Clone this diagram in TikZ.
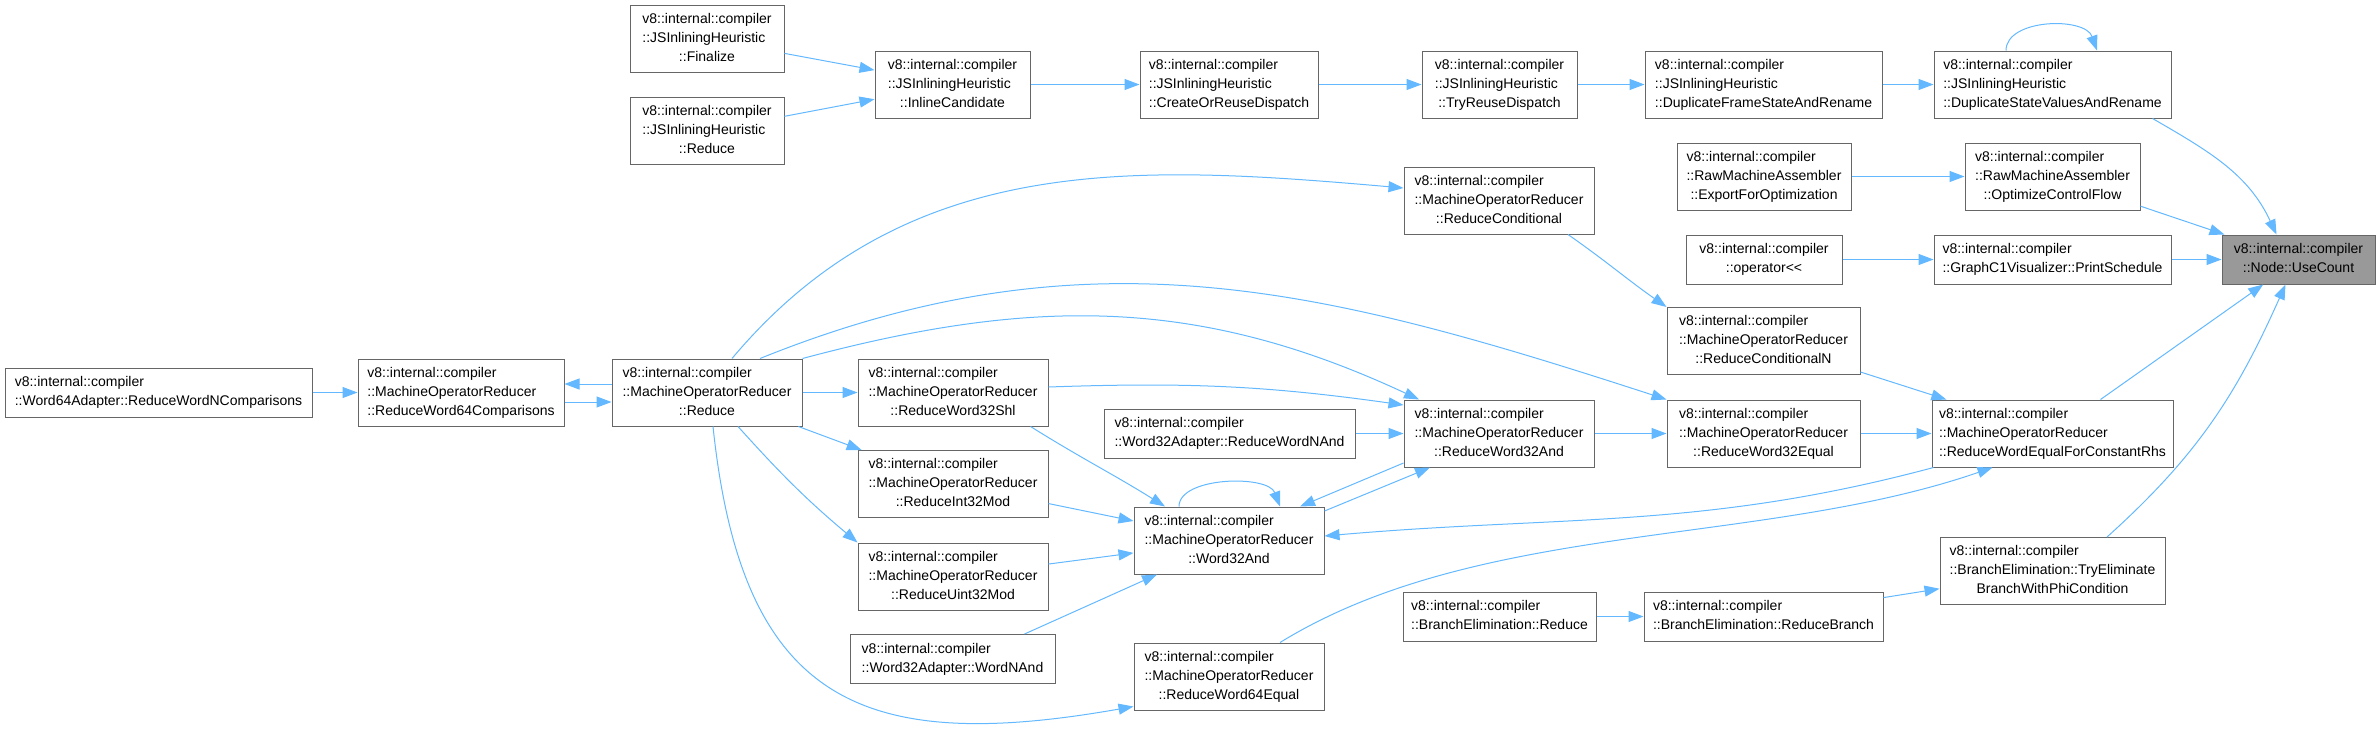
\documentclass[tikz,border=0pt]{standalone}
\usepackage{fontspec}
\newfontfamily\dxfont{Liberation Sans}
\usetikzlibrary{arrows.meta}
\definecolor{boxgray}{HTML}{666666}
\definecolor{targetgray}{HTML}{999999}
\definecolor{callblue}{HTML}{63B8FF}
\newcommand{\fnlabel}[2]{\begin{tabular}{@{}l@{}}#1\\\multicolumn{1}{@{}c@{}}{#2}\end{tabular}}
\tikzset{
  fn/.style      = {rectangle, draw=boxgray, fill=white, line width=1pt, inner sep=0pt,
                    font=\dxfont\fontsize{14}{19}\selectfont},
  fnthree/.style = {fn, minimum height=67},
  fntwo/.style   = {fn, minimum height=49},
  target/.style  = {fntwo, fill=targetgray},
  call/.style    = {-{Triangle[length=15pt, width=11pt]}, draw=callblue, line width=1pt},
}

\begin{document}
\begin{tikzpicture}[x=1pt, y=1pt]
  \useasboundingbox (0,0) rectangle (2376,-737);

  \node[fnthree, minimum width=154] (fin)      at (707, -39)    {\fnlabel{v8::internal::compiler\\::JSInliningHeuristic}{::Finalize}};
  \node[fnthree, minimum width=154] (jsred)    at (707, -131)   {\fnlabel{v8::internal::compiler\\::JSInliningHeuristic}{::Reduce}};
  \node[fnthree, minimum width=155] (inlcand)  at (952.5, -84.5) {\fnlabel{v8::internal::compiler\\::JSInliningHeuristic}{::InlineCandidate}};
  \node[fnthree, minimum width=178] (creat)    at (1229, -84.5)  {\fnlabel{v8::internal::compiler\\::JSInliningHeuristic}{::CreateOrReuseDispatch}};
  \node[fnthree, minimum width=155] (tryre)    at (1499.5, -84.5) {\fnlabel{v8::internal::compiler\\::JSInliningHeuristic}{::TryReuseDispatch}};
  \node[fnthree, minimum width=237] (dupframe) at (1763.5, -84.5) {\fnlabel{v8::internal::compiler\\::JSInliningHeuristic}{::DuplicateFrameStateAndRename}};
  \node[fnthree, minimum width=237] (dupstate) at (2052.5, -84.5) {\fnlabel{v8::internal::compiler\\::JSInliningHeuristic}{::DuplicateStateValuesAndRename}};
  \node[fnthree, minimum width=174] (export)   at (1764, -176.5)  {\fnlabel{v8::internal::compiler\\::RawMachineAssembler}{::ExportForOptimization}};
  \node[fnthree, minimum width=175] (optcf)    at (2052.5, -176.5) {\fnlabel{v8::internal::compiler\\::RawMachineAssembler}{::OptimizeControlFlow}};
  \node[fntwo,   minimum width=156] (oplt)     at (1764, -259.5)  {\fnlabel{v8::internal::compiler}{::operator<<}};
  \node[fntwo,   minimum width=237] (prsched)  at (2052.5, -259.5) {\fnlabel{v8::internal::compiler}{::GraphC1Visualizer::PrintSchedule}};
  \node[target,  minimum width=153] (usecount) at (2298.5, -259.5) {\fnlabel{v8::internal::compiler}{::Node::UseCount}};
  \node[fnthree, minimum width=190] (redcond)  at (1499, -200.5)  {\fnlabel{v8::internal::compiler\\::MachineOperatorReducer}{::ReduceConditional}};
  \node[fnthree, minimum width=193] (redcondn) at (1763.5, -341)  {\fnlabel{v8::internal::compiler\\::MachineOperatorReducer}{::ReduceConditionalN}};
  \node[fntwo,   minimum width=307] (rwncmp)   at (158.5, -392.5) {\fnlabel{v8::internal::compiler}{::Word64Adapter::ReduceWordNComparisons}};
  \node[fnthree, minimum width=206] (rw64cmp)  at (461, -392.5)   {\fnlabel{v8::internal::compiler\\::MachineOperatorReducer}{::ReduceWord64Comparisons}};
  \node[fnthree, minimum width=190] (morred)   at (707, -392.5)   {\fnlabel{v8::internal::compiler\\::MachineOperatorReducer}{::Reduce}};
  \node[fnthree, minimum width=190] (rw32shl)  at (953, -392.5)   {\fnlabel{v8::internal::compiler\\::MachineOperatorReducer}{::ReduceWord32Shl}};
  \node[fnthree, minimum width=190] (ri32mod)  at (953, -484)     {\fnlabel{v8::internal::compiler\\::MachineOperatorReducer}{::ReduceInt32Mod}};
  \node[fnthree, minimum width=190] (ru32mod)  at (953, -576.5)   {\fnlabel{v8::internal::compiler\\::MachineOperatorReducer}{::ReduceUint32Mod}};
  \node[fntwo,   minimum width=205] (wnand)    at (952.5, -659)   {\fnlabel{v8::internal::compiler}{::Word32Adapter::WordNAnd}};
  \node[fntwo,   minimum width=251] (rwnand)   at (1229.5, -433.5) {\fnlabel{v8::internal::compiler}{::Word32Adapter::ReduceWordNAnd}};
  \node[fnthree, minimum width=190] (rw32and)  at (1499, -433.5)  {\fnlabel{v8::internal::compiler\\::MachineOperatorReducer}{::ReduceWord32And}};
  \node[fnthree, minimum width=190] (w32and)   at (1229, -540.5)  {\fnlabel{v8::internal::compiler\\::MachineOperatorReducer}{::Word32And}};
  \node[fnthree, minimum width=190] (rw64eq)   at (1229, -676.5)  {\fnlabel{v8::internal::compiler\\::MachineOperatorReducer}{::ReduceWord64Equal}};
  \node[fntwo,   minimum width=193] (bered)    at (1499.5, -616.5) {\fnlabel{v8::internal::compiler}{::BranchElimination::Reduce}};
  \node[fntwo,   minimum width=239] (beredbr)  at (1763.5, -616.5) {\fnlabel{v8::internal::compiler}{::BranchElimination::ReduceBranch}};
  \node[fnthree, minimum width=225] (betry)    at (2052.5, -571)  {\fnlabel{v8::internal::compiler\\::BranchElimination::TryEliminate}{BranchWithPhiCondition}};
  \node[fnthree, minimum width=193] (rw32eq)   at (1763.5, -433.5) {\fnlabel{v8::internal::compiler\\::MachineOperatorReducer}{::ReduceWord32Equal}};
  \node[fnthree, minimum width=241] (rwefcr)   at (2052.5, -433.5) {\fnlabel{v8::internal::compiler\\::MachineOperatorReducer}{::ReduceWordEqualForConstantRhs}};

  \draw[call] (fin) -- (inlcand);
  \draw[call] (jsred) -- (inlcand);
  \draw[call] (inlcand) -- (creat);
  \draw[call] (creat) -- (tryre);
  \draw[call] (tryre) -- (dupframe);
  \draw[call] (dupframe) -- (dupstate);
  \draw[call] ([xshift=-46.5pt]dupstate.north) .. controls +(0,32) and +(-12,34) .. ([xshift=44.5pt]dupstate.north);
  \draw[call] ([xshift=-19pt]dupstate.south east) to[out=-30, in=115] ([xshift=-22pt]usecount.north);
  \draw[call] (export) -- (optcf);
  \draw[call] (optcf) -- (usecount);
  \draw[call] (oplt) -- (prsched);
  \draw[call] (prsched) -- (usecount);
  \draw[call] (rwefcr) -- (usecount);
  \draw[call] ([xshift=54.5pt]betry.north) to[out=42, in=-114] ([xshift=-13pt]usecount.south);
  \draw[call] (beredbr) -- (betry);
  \draw[call] (bered) -- (beredbr);
  \draw[call] ([xshift=69pt]redcond.south) to[out=-35, in=145] (redcondn.north west);
  \draw[call] (redcondn) -- (rwefcr);
  \draw[call] (rw32eq) -- (rwefcr);
  \draw[call] (rw32and) -- (rw32eq);
  \draw[call] (rwnand) -- (rw32and);
  \draw[call] ([yshift=5.5pt]rw32shl.east) to[out=2, in=172] ([yshift=28.5pt]rw32and.west);
  \draw[call] (morred.north east) to[out=15, in=155] ([xshift=-80pt]rw32and.north);
  \draw[call] ([xshift=53pt]morred.north) to[out=22, in=162] (rw32eq.north west);
  \draw[call] ([xshift=25pt]morred.north) to[out=50, in=175] ([yshift=12.5pt]redcond.west);
  \draw[call] (morred) -- (rw32shl);
  \draw[call] (morred) -- (ri32mod);
  \draw[call] ([xshift=31pt]morred.south) to[out=-48, in=140] (ru32mod.north west);
  \draw[call] ([xshift=6pt]morred.south) to[out=-84, in=190, looseness=1.4] ([yshift=-30pt]rw64eq.west);
  \draw[call] ([yshift=8.5pt]morred.west) -- ([yshift=8.5pt]rw64cmp.east);
  \draw[call] ([yshift=-9.5pt]rw64cmp.east) -- ([yshift=-9.5pt]morred.west);
  \draw[call] (rwncmp) -- (rw64cmp);
  \draw[call] ([xshift=-18pt]rw32shl.south east) to[out=-32, in=148] ([xshift=-64pt]w32and.north);
  \draw[call] (ri32mod) -- (w32and);
  \draw[call] (ru32mod) -- (w32and);
  \draw[call] ([xshift=72pt]wnand.north) -- ([xshift=-72pt]w32and.south);
  \draw[call] ([xshift=-50pt]w32and.north) .. controls +(0,30) and +(-12,32) .. ([xshift=51pt]w32and.north);
  \draw[call] ([yshift=-29.5pt]rw32and.west) -- ([xshift=71pt]w32and.north);
  \draw[call] ([yshift=29.5pt]w32and.east) -- ([xshift=-69pt]rw32and.south);
  \draw[call] ([xshift=2pt]rwefcr.south west) to[out=195, in=5] ([yshift=4.5pt]w32and.east);
  \draw[call] ([xshift=51pt]rw64eq.north) .. controls +(200,123) and +(-232,-80) .. ([xshift=-60pt]rwefcr.south);
\end{tikzpicture}
\end{document}
